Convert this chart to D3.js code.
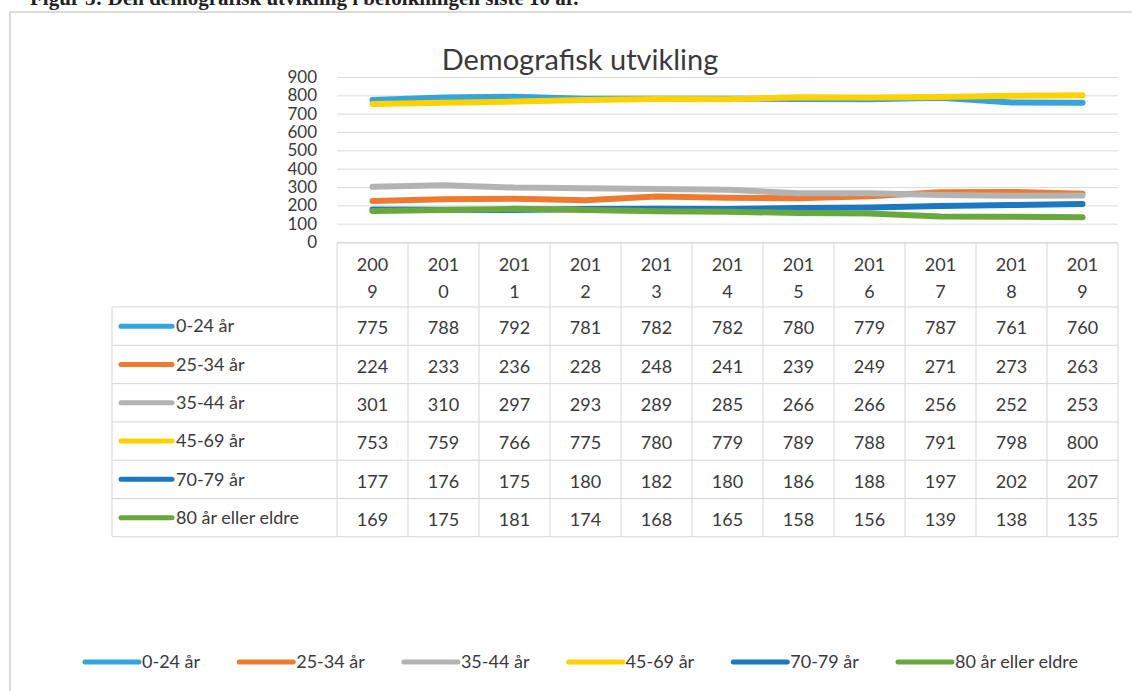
<!DOCTYPE html>
<html>
<head>
<meta charset="utf-8">
<script src="https://cdn.jsdelivr.net/npm/d3@7"></script>
<style>
  body { margin: 0; background: #fff; }
  svg { display: block; }
</style>
</head>
<body>
<svg id="chart" width="1132" height="691"></svg>
<script>
// data
var years = ["2009","2010","2011","2012","2013","2014","2015","2016","2017","2018","2019"];
var series = ["0-24 år","25-34 år","35-44 år","45-69 år","70-79 år","80 år eller eldre"];
var v0_24  = [775,788,792,781,782,782,780,779,787,761,760];
var v25_34 = [224,233,236,228,248,241,239,249,271,273,263];
var v35_44 = [301,310,297,293,289,285,266,266,256,252,253];
var v45_69 = [753,759,766,775,780,779,789,788,791,798,800];
var v70_79 = [177,176,175,180,182,180,186,188,197,202,207];
var v80    = [169,175,181,174,168,165,158,156,139,138,135];
var yTicks = [0,100,200,300,400,500,600,700,800,900];
var colors = ["#35a3dc","#ee7a30","#b3b3b3","#fdd200","#1d78c4","#68a83c"];

var values = [v0_24, v25_34, v35_44, v45_69, v70_79, v80];

var svg = d3.select("#chart"),
    font = "Lato, 'Noto Sans', sans-serif",
    txt = "#3a3a3a",
    border = "#d6d6d6";

var plotLeft = 337, plotRight = 1118, plotTop = 77, plotBottom = 242;
var tableTop = 243, headBottom = 307, rowH = 38.3, legLeft = 112;

var x = d3.scaleBand().domain(years).range([plotLeft, plotRight]);
var y = d3.scaleLinear().domain([0, 900]).range([plotBottom, plotTop]);
var color = d3.scaleOrdinal().domain(series).range(colors);

// scanned caption above the chart, clipped at the top edge
svg.append("text")
    .attr("x", 30)
    .attr("y", 5)
    .attr("font-family", "'Liberation Serif', 'DejaVu Serif', serif")
    .attr("font-weight", "bold")
    .attr("font-size", 21)
    .attr("fill", "#222")
    .text("Figur 3: Den demografisk utvikling i befolkningen siste 10 år.");

// chart frame
svg.append("path")
    .attr("d", "M10,700 L10,12 L1140,12")
    .attr("fill", "none")
    .attr("stroke", "#cfcfcf")
    .attr("stroke-width", 1.5);

svg.append("text")
    .attr("x", 580)
    .attr("y", 70)
    .attr("text-anchor", "middle")
    .attr("font-family", font)
    .attr("font-size", 29)
    .attr("fill", txt)
    .text("Demografisk utvikling");

// gridlines
var grid = svg.append("g")
    .attr("transform", "translate(" + plotLeft + ",0)")
    .call(d3.axisLeft(y).tickValues(yTicks).tickSize(-(plotRight - plotLeft)).tickFormat(""));
grid.select(".domain").remove();
grid.selectAll("line").attr("stroke", "#dcdcdc").attr("stroke-width", 1);

// y labels
var yAxis = svg.append("g")
    .attr("transform", "translate(317,0)")
    .call(d3.axisLeft(y).tickValues(yTicks).tickSize(0).tickPadding(0));
yAxis.select(".domain").remove();
yAxis.selectAll("text")
    .attr("font-family", font)
    .attr("font-size", 17)
    .attr("fill", txt);

// lines
var line = d3.line()
    .x(function(d, i) { return x(years[i]) + x.bandwidth() / 2; })
    .y(function(d) { return y(d); });

svg.append("g")
    .selectAll("path")
    .data(series)
    .enter().append("path")
    .attr("d", function(d, i) { return line(values[i]); })
    .attr("fill", "none")
    .attr("stroke", function(d) { return color(d); })
    .attr("stroke-width", 6)
    .attr("stroke-linecap", "round")
    .attr("stroke-linejoin", "round");

// data table
var table = svg.append("g");
var tableBottom = headBottom + rowH * series.length;

// horizontal rules
table.append("line")
    .attr("x1", plotLeft).attr("x2", plotRight)
    .attr("y1", tableTop).attr("y2", tableTop);
series.forEach(function(s, i) {
    table.append("line")
        .attr("x1", legLeft).attr("x2", plotRight)
        .attr("y1", headBottom + i * rowH).attr("y2", headBottom + i * rowH);
});
table.append("line")
    .attr("x1", legLeft).attr("x2", plotRight)
    .attr("y1", tableBottom).attr("y2", tableBottom);

// vertical rules
table.append("line")
    .attr("x1", legLeft).attr("x2", legLeft)
    .attr("y1", headBottom).attr("y2", tableBottom);
years.concat(["end"]).forEach(function(yr, i) {
    var xx = i < years.length ? x(yr) : plotRight;
    table.append("line")
        .attr("x1", xx).attr("x2", xx)
        .attr("y1", tableTop).attr("y2", tableBottom);
});
table.selectAll("line").attr("stroke", border).attr("stroke-width", 1);

// header years, wrapped like Excel does
var head = table.selectAll(".yr")
    .data(years)
    .enter().append("text")
    .attr("class", "yr")
    .attr("text-anchor", "middle")
    .attr("font-family", font)
    .attr("font-size", 18)
    .attr("fill", txt);
head.append("tspan")
    .attr("x", function(d) { return x(d) + x.bandwidth() / 2; })
    .attr("y", 271)
    .text(function(d) { return d.slice(0, 3); });
head.append("tspan")
    .attr("x", function(d) { return x(d) + x.bandwidth() / 2; })
    .attr("y", 298)
    .text(function(d) { return d.slice(3); });

// rows
series.forEach(function(s, i) {
    var cy = headBottom + i * rowH + rowH / 2;
    table.append("line")
        .attr("x1", 121).attr("x2", 172)
        .attr("y1", cy).attr("y2", cy)
        .attr("stroke", color(s))
        .attr("stroke-width", 5)
        .attr("stroke-linecap", "round");
    table.append("text")
        .attr("x", 176)
        .attr("y", cy)
        .attr("dy", "0.35em")
        .attr("font-family", font)
        .attr("font-size", 18)
        .attr("fill", txt)
        .text(s);
    table.selectAll(".v" + i)
        .data(values[i])
        .enter().append("text")
        .attr("x", function(d, j) { return x(years[j]) + x.bandwidth() / 2; })
        .attr("y", cy + 2)
        .attr("dy", "0.35em")
        .attr("text-anchor", "middle")
        .attr("font-family", font)
        .attr("font-size", 18)
        .attr("fill", txt)
        .text(function(d) { return d; });
});

// bottom legend, spread between x=85 and x=1078
var legend = svg.append("g").attr("transform", "translate(0,662)");
var items = legend.selectAll("g")
    .data(series)
    .enter().append("g");
items.append("line")
    .attr("x1", 0).attr("x2", 54)
    .attr("stroke", function(d) { return color(d); })
    .attr("stroke-width", 5)
    .attr("stroke-linecap", "round");
items.append("text")
    .attr("x", 57)
    .attr("dy", "0.35em")
    .attr("font-family", font)
    .attr("font-size", 18)
    .attr("fill", txt)
    .text(function(d) { return d; });
var widths = [];
items.selectAll("text").each(function() { widths.push(57 + this.getComputedTextLength()); });
var gap = (1078 - 85 - d3.sum(widths)) / (series.length - 1);
var lx = 85;
items.attr("transform", function(d, i) {
    var t = "translate(" + lx + ",0)";
    lx += widths[i] + gap;
    return t;
});
</script>
</body>
</html>
